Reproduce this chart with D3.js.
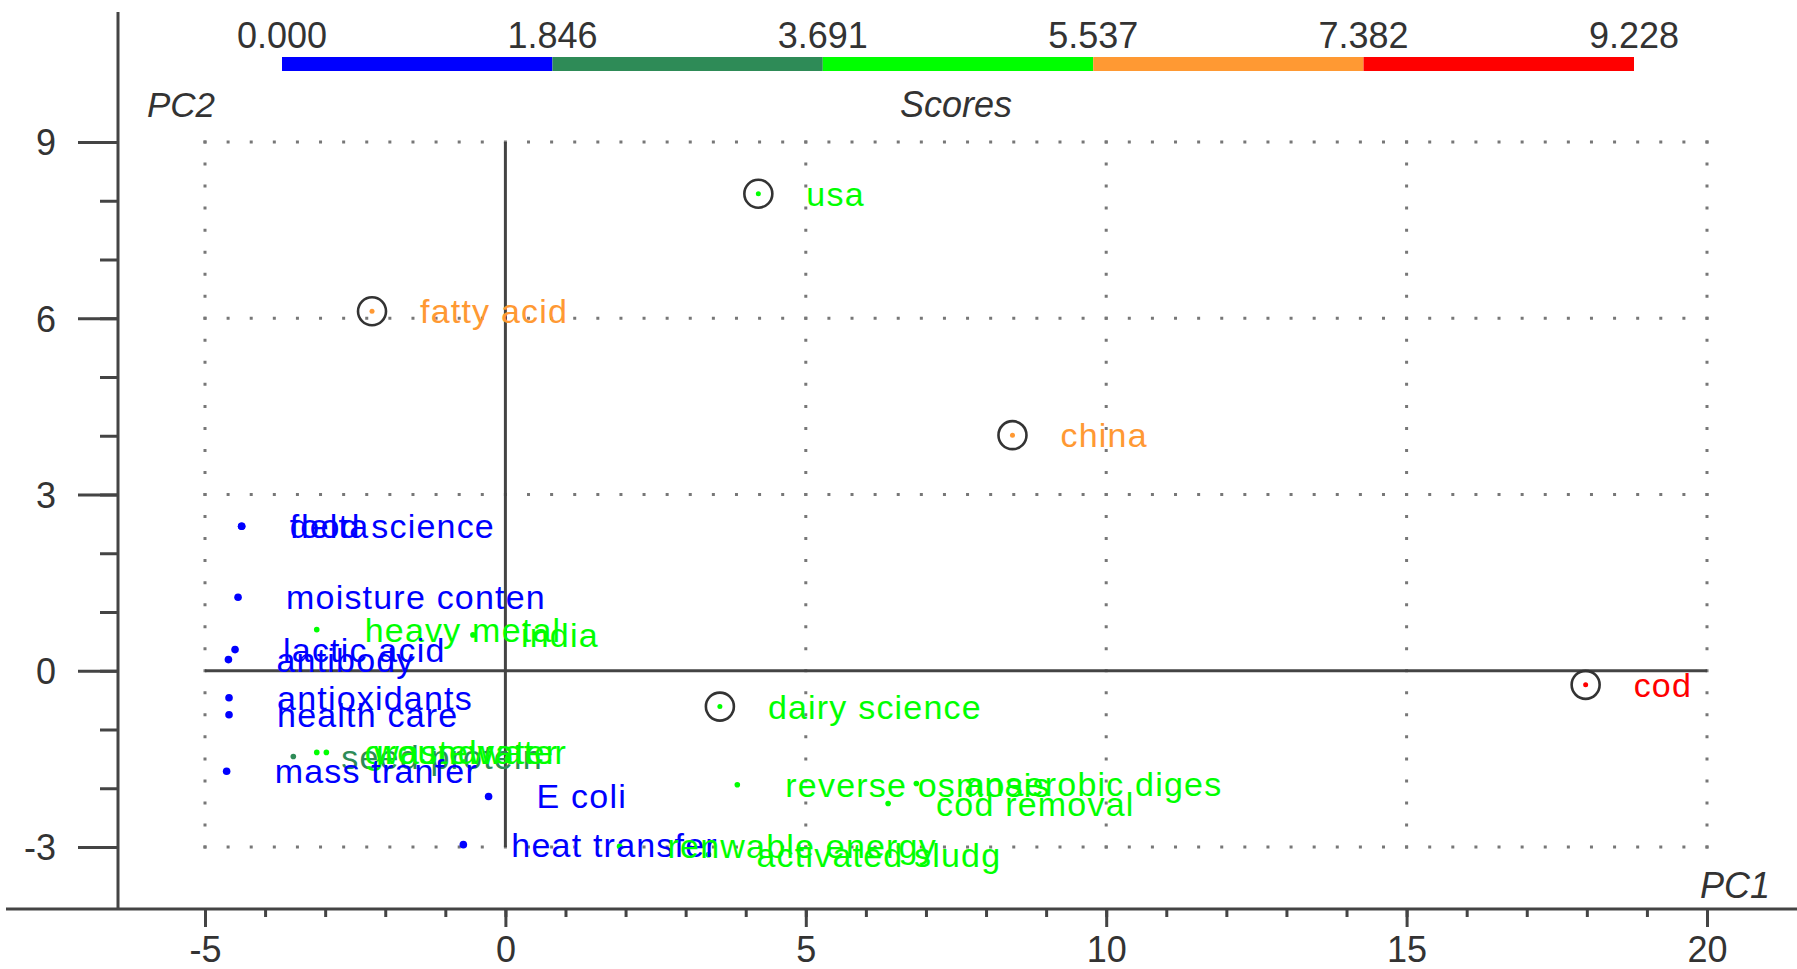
<!DOCTYPE html>
<html>
<head>
<meta charset="utf-8">
<script src="https://cdn.jsdelivr.net/npm/d3@7"></script>
<style>
  html, body { margin: 0; padding: 0; background: #ffffff; }
  svg { display: block; }
</style>
</head>
<body>
<svg id="chart" width="1797" height="969"></svg>
<script>
// ---------------- data ----------------
const labels = [
  "usa", "fatty acid", "china", "dairy science", "cod",
  "delta", "food science", "moisture conten", "heavy metal", "india",
  "lactic acid", "antibody", "antioxidants", "health care",
  "seed protein", "groundwater", "wastewater", "mass tranfer",
  "E coli", "heat transfer", "reverse osmosis", "anaerobic diges",
  "cod removal", "renwable energy", "activated sludg"
];
const pc1 = [
  4.21, -2.22, 8.44, 3.57, 17.98,
  -4.39, -4.39, -4.45, -3.14, -0.54,
  -4.50, -4.61, -4.60, -4.60,
  -3.53, -3.14, -2.98, -4.64,
  -0.28, -0.70, 3.86, 6.84,
  6.37, 1.90, 3.38
];
const pc2 = [
  8.12, 6.12, 4.01, -0.61, -0.24,
  2.46, 2.46, 1.25, 0.70, 0.61,
  0.36, 0.19, -0.46, -0.75,
  -1.46, -1.39, -1.39, -1.71,
  -2.14, -2.96, -1.94, -1.92,
  -2.26, -2.99, -3.13
];
const scores = [
  5.0, 6.3, 6.9, 4.2, 9.228,
  1.2, 1.3, 1.1, 4.0, 3.9,
  1.0, 0.9, 1.0, 0.9,
  2.6, 3.8, 3.8, 0.9,
  1.4, 1.3, 4.1, 4.3,
  4.0, 3.9, 4.0
];
const highlighted = ["usa", "fatty acid", "china", "dairy science", "cod"];

const scoreBreaks = [0.000, 1.846, 3.691, 5.537, 7.382, 9.228];
const scoreColors = ["#0000ff", "#2e8b57", "#00ff00", "#ff9933", "#ff0000"];

const xTicksMajor = [-5, 0, 5, 10, 15, 20];
const xTicksMinor = d3.range(-5, 21, 1);
const yTicksMajor = [-3, 0, 3, 6, 9];
const yTicksMinor = d3.range(-3, 10, 1);

// ---------------- layout ----------------
const svg = d3.select("#chart");
const W = 1797, H = 969;
const axisY = 909;    // x-axis line position
const axisX = 118;    // y-axis line position

const x = d3.scaleLinear().domain([-5, 20]).range([205, 1707]);
const y = d3.scaleLinear().domain([-3, 9]).range([847, 142]);
const color = d3.scaleThreshold().domain(scoreBreaks.slice(1, -1)).range(scoreColors);

const axisColor = "#444444";
const font = "'Liberation Sans', Arial, sans-serif";
const tickFmt = d => String(d);   // plain hyphen minus like the reference

// ---------------- colour bar ----------------
const cb = d3.scaleLinear().domain([scoreBreaks[0], scoreBreaks[scoreBreaks.length - 1]]).range([282, 1634]);
const cbG = svg.append("g");
cbG.selectAll("rect").data(scoreColors).join("rect")
  .attr("x", (d, i) => cb(scoreBreaks[i]))
  .attr("width", (d, i) => cb(scoreBreaks[i + 1]) - cb(scoreBreaks[i]))
  .attr("y", 57).attr("height", 14)
  .attr("fill", d => d);
cbG.selectAll("text").data(scoreBreaks).join("text")
  .attr("x", d => cb(d)).attr("y", 48)
  .attr("text-anchor", "middle")
  .attr("font-family", font).attr("font-size", 36)
  .attr("fill", "#333")
  .text(d => d.toFixed(3));

svg.append("text").attr("x", 147).attr("y", 117)
  .attr("font-family", font).attr("font-size", 35).attr("font-style", "italic")
  .attr("fill", "#333").text("PC2");
svg.append("text").attr("x", 900).attr("y", 117)
  .attr("font-family", font).attr("font-size", 36).attr("font-style", "italic")
  .attr("fill", "#333").text("Scores");
svg.append("text").attr("x", 1700).attr("y", 898)
  .attr("font-family", font).attr("font-size", 36).attr("font-style", "italic")
  .attr("fill", "#333").text("PC1");

// ---------------- dotted grid ----------------
const grid = svg.append("g").attr("stroke", "#777").attr("stroke-width", 3);
const hLen = x(20) - x(-5);
const hPeriod = hLen / 65;
const vLen = y(-3) - y(9);
const vPeriod = vLen / 32;
grid.selectAll("line.h").data(yTicksMajor.filter(d => d !== 0)).join("line")
  .attr("class", "h")
  .attr("x1", x(-5) - 1.5).attr("x2", x(20) + 1.5)
  .attr("y1", d => y(d)).attr("y2", d => y(d))
  .attr("stroke-dasharray", `3 ${hPeriod - 3}`);
grid.selectAll("line.v").data(xTicksMajor.filter(d => d !== 0)).join("line")
  .attr("class", "v")
  .attr("x1", d => x(d)).attr("x2", d => x(d))
  .attr("y1", y(9) - 1.5).attr("y2", y(-3) + 1.5)
  .attr("stroke-dasharray", `3 ${vPeriod - 3}`);

// zero lines
svg.append("line")
  .attr("x1", x(-5)).attr("x2", x(20)).attr("y1", y(0)).attr("y2", y(0))
  .attr("stroke", axisColor).attr("stroke-width", 3);
svg.append("line")
  .attr("x1", x(0)).attr("x2", x(0)).attr("y1", y(9)).attr("y2", y(-3))
  .attr("stroke", axisColor).attr("stroke-width", 3);

// ---------------- axes ----------------
svg.append("line").attr("x1", 6).attr("x2", W).attr("y1", axisY).attr("y2", axisY)
  .attr("stroke", axisColor).attr("stroke-width", 3);
svg.append("line").attr("x1", axisX).attr("x2", axisX).attr("y1", 12).attr("y2", axisY)
  .attr("stroke", axisColor).attr("stroke-width", 3);

const xMinor = svg.append("g").attr("transform", `translate(0,${axisY})`)
  .call(d3.axisBottom(x).tickValues(xTicksMinor).tickSize(8).tickFormat(""));
const xMajor = svg.append("g").attr("transform", `translate(0,${axisY})`)
  .call(d3.axisBottom(x).tickValues(xTicksMajor).tickSize(18).tickFormat(tickFmt));
const yMinor = svg.append("g").attr("transform", `translate(${axisX},0)`)
  .call(d3.axisLeft(y).tickValues(yTicksMinor).tickSize(18).tickFormat(""));
const yMajor = svg.append("g").attr("transform", `translate(${axisX},0)`)
  .call(d3.axisLeft(y).tickValues(yTicksMajor).tickSize(40).tickFormat(tickFmt));

[xMinor, xMajor, yMinor, yMajor].forEach(g => {
  g.select(".domain").remove();
  g.selectAll(".tick line").attr("stroke", axisColor).attr("stroke-width", 3);
  g.selectAll("text").attr("font-family", font).attr("font-size", 36).attr("fill", "#333");
});
xMajor.selectAll("text").attr("y", 53).attr("dy", 0);
yMajor.selectAll("text").attr("x", -62).attr("dy", "0.36em");

// ---------------- points ----------------
const pts = labels.map((l, i) => ({ label: l, px: pc1[i], py: pc2[i], s: scores[i], hi: highlighted.includes(l) }));

const pG = svg.append("g");
pG.selectAll("circle.ring").data(pts.filter(d => d.hi)).join("circle")
  .attr("class", "ring")
  .attr("cx", d => x(d.px)).attr("cy", d => y(d.py)).attr("r", 14)
  .attr("fill", "none").attr("stroke", "#333").attr("stroke-width", 2.6);
pG.selectAll("circle.dot").data(pts).join("circle")
  .attr("class", "dot")
  .attr("cx", d => x(d.px)).attr("cy", d => y(d.py))
  .attr("r", d => d.hi ? 2.5 : (color(d.s) === "#0000ff" ? 3.8 : 2.8))
  .attr("fill", d => color(d.s));
pG.selectAll("text").data(pts).join("text")
  .attr("x", d => x(d.px) + 48).attr("y", d => y(d.py) + 12)
  .attr("font-family", font).attr("font-size", 34).attr("letter-spacing", 1.2)
  .attr("fill", d => color(d.s))
  .text(d => d.label);
</script>
</body>
</html>
